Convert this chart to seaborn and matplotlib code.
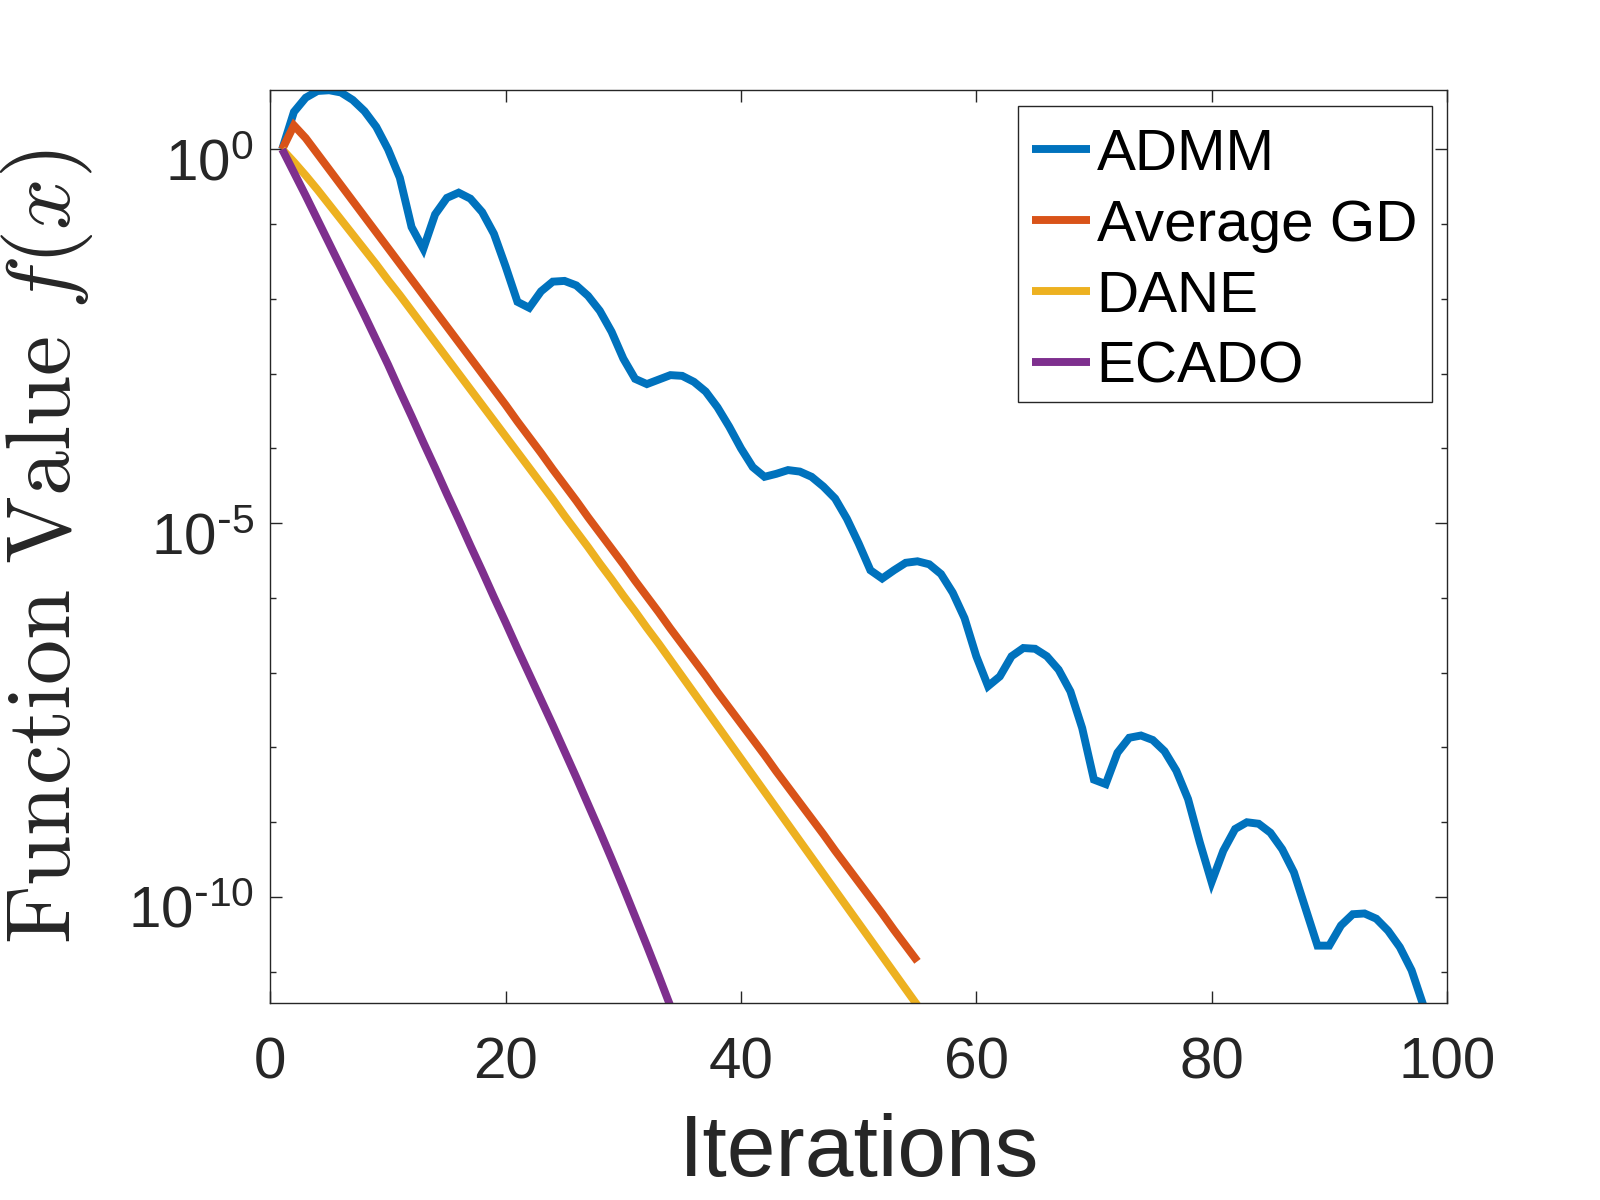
import matplotlib
matplotlib.use("Agg")
import matplotlib.pyplot as plt
from matplotlib.ticker import NullFormatter, NullLocator
from matplotlib.transforms import ScaledTranslation
import numpy as np
import pandas as pd
import seaborn as sns

# values, stored as log10 of f(x)
admm_iter = list(range(1, 99))
admm_log = [0.00, 0.50, 0.69, 0.78, 0.79, 0.76, 0.66, 0.51, 0.30, 0.00,
            -0.38, -1.04, -1.33, -0.87, -0.65, -0.58, -0.66, -0.84, -1.13, -1.57,
            -2.04, -2.12, -1.90, -1.77, -1.76, -1.82, -1.96, -2.16, -2.44, -2.80,
            -3.07, -3.14, -3.08, -3.02, -3.03, -3.11, -3.24, -3.45, -3.71, -4.00,
            -4.25, -4.38, -4.34, -4.29, -4.31, -4.38, -4.51, -4.67, -4.94, -5.27,
            -5.63, -5.74, -5.63, -5.53, -5.51, -5.55, -5.68, -5.93, -6.27, -6.78,
            -7.18, -7.05, -6.78, -6.67, -6.68, -6.78, -6.96, -7.25, -7.74, -8.43,
            -8.49, -8.07, -7.87, -7.84, -7.90, -8.05, -8.31, -8.69, -9.27, -9.80,
            -9.38, -9.09, -9.00, -9.02, -9.14, -9.36, -9.67, -10.16, -10.65, -10.65,
            -10.38, -10.23, -10.22, -10.29, -10.45, -10.67, -10.98, -11.45]

avg_gd_iter = list(range(1, 56))
avg_gd_log = [0.00, 0.32, 0.15, -0.06, -0.27, -0.48, -0.69, -0.90, -1.11, -1.32,
              -1.53, -1.74, -1.95, -2.16, -2.37, -2.58, -2.79, -3.00, -3.21, -3.42,
              -3.64, -3.85, -4.06, -4.28, -4.49, -4.70, -4.92, -5.13, -5.34, -5.55,
              -5.77, -5.98, -6.19, -6.41, -6.62, -6.83, -7.04, -7.26, -7.47, -7.68,
              -7.89, -8.10, -8.32, -8.53, -8.74, -8.95, -9.16, -9.38, -9.59, -9.80,
              -10.01, -10.22, -10.44, -10.65, -10.86]

dane_iter = list(range(1, 56))
dane_log = [0.00, -0.17, -0.35, -0.54, -0.74, -0.94, -1.14, -1.34, -1.54, -1.75,
            -1.95, -2.16, -2.37, -2.58, -2.79, -3.00, -3.21, -3.42, -3.63, -3.84,
            -4.05, -4.26, -4.47, -4.68, -4.90, -5.11, -5.32, -5.54, -5.75, -5.97,
            -6.18, -6.40, -6.61, -6.83, -7.05, -7.27, -7.49, -7.71, -7.93, -8.15,
            -8.37, -8.59, -8.81, -9.03, -9.25, -9.47, -9.69, -9.91, -10.13, -10.35,
            -10.57, -10.79, -11.01, -11.23, -11.45]

ecado_iter = list(range(1, 35))
ecado_log = [0.00, -0.31, -0.62, -0.94, -1.26, -1.58, -1.90, -2.22, -2.55, -2.88,
             -3.23, -3.57, -3.92, -4.26, -4.61, -4.95, -5.30, -5.64, -5.99, -6.33,
             -6.68, -7.02, -7.36, -7.70, -8.05, -8.40, -8.76, -9.12, -9.49, -9.87,
             -10.26, -10.65, -11.05, -11.46]

methods = ["ADMM", "Average GD", "DANE", "ECADO"]
colors = ["#0072BD", "#D95319", "#EDB120", "#7E2F8E"]
series = [(admm_iter, admm_log), (avg_gd_iter, avg_gd_log),
          (dane_iter, dane_log), (ecado_iter, ecado_log)]

xticks = [0, 20, 40, 60, 80, 100]
ytick_exp = [-10, -5, 0]
ytick_labels = [r"$\mathregular{10^{\text{-}10}}$", r"$\mathregular{10^{\text{-}5}}$",
                r"$\mathregular{10^{0}}$"]
yminor_exp = [-11, -9, -8, -7, -6, -4, -3, -2, -1]

sns.set_style("ticks")
plt.rcParams["font.family"] = ["Liberation Sans", "DejaVu Sans"]

frames = []
for name, (it, lg) in zip(methods, series):
    frames.append(pd.DataFrame({"iter": it, "val": 10.0 ** np.array(lg), "method": name}))
data = pd.concat(frames, ignore_index=True)

fig = plt.figure(figsize=(16, 12), dpi=100)
ax = fig.add_axes([0.169, 0.164, 0.7353, 0.7608])

for name, col in zip(methods, colors):
    sub = data[data.method == name]
    sns.lineplot(data=sub, x="iter", y="val", color=col, linewidth=5.7,
                 label=name, ax=ax, estimator=None, solid_joinstyle="miter",
                 solid_capstyle="butt")

ax.set_yscale("log")
ax.set_xlim(0, 100)
ax.set_ylim(10 ** -11.42, 10 ** 0.79)

ax.set_xticks(xticks)
ax.set_xticklabels([str(t) for t in xticks])
ax.set_yticks([10.0 ** e for e in ytick_exp])
ax.set_yticklabels(ytick_labels)
ax.set_yticks([10.0 ** e for e in yminor_exp], minor=True)
ax.yaxis.set_minor_formatter(NullFormatter())
ax.xaxis.set_minor_locator(NullLocator())

gray = "#262626"
ax.tick_params(axis="both", which="major", direction="in", length=8.5, width=1.0,
               top=True, right=True, labelsize=42, colors=gray)
ax.tick_params(axis="x", which="major", pad=24)
ax.tick_params(axis="y", which="major", pad=12)
ax.tick_params(axis="y", which="minor", direction="in", length=4.5, width=1.0,
               right=True, left=True, colors=gray, labelleft=False)
for sp in ax.spines.values():
    sp.set_visible(True)
    sp.set_color(gray)
    sp.set_linewidth(1.0)

# MATLAB puts the base "10" a bit lower than matplotlib does
shift = ScaledTranslation(0, -7 / 72, fig.dpi_scale_trans)
for lab in ax.get_yticklabels():
    lab.set_transform(lab.get_transform() + shift)

ax.set_xlabel("Iterations", fontsize=63, color=gray, labelpad=16)
ax.set_ylabel(r"$\mathrm{Function\ Value}\ f(x)$", fontsize=65, color=gray,
              math_fontfamily="cm")
ax.yaxis.set_label_coords(-0.149, 0.5)

leg = ax.legend(loc="upper right", bbox_to_anchor=(0.987, 0.9825), borderaxespad=0,
                fontsize=42, frameon=True, fancybox=False, framealpha=1,
                edgecolor=gray, handlelength=0.98, handletextpad=0.12,
                labelspacing=0.29, borderpad=0.25)
leg.get_frame().set_linewidth(1.0)
# nudge the rows down a little inside the frame
leg_shift = ScaledTranslation(0, -5 / 72, fig.dpi_scale_trans)
for t in leg.get_texts():
    t.set_color("black")
    t.set_transform(t.get_transform() + leg_shift)
for ln in leg.get_lines():
    ln.set_transform(ln.get_transform() + leg_shift)

fig.savefig("out.png", dpi=100, facecolor="white")
